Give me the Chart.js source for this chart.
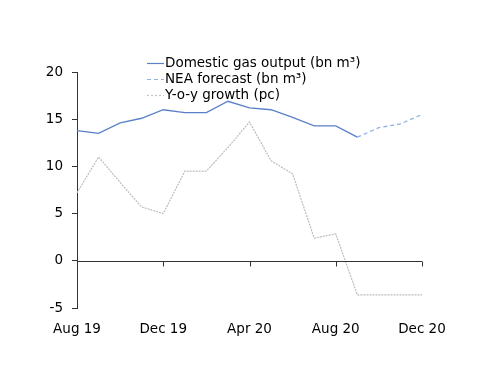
<!DOCTYPE html>
<html>
<head>
<meta charset="utf-8">
<script src="https://cdn.jsdelivr.net/npm/chart.js@4"></script>
<style>
  html, body { margin: 0; padding: 0; background: #fff; }
  #wrap { width: 500px; height: 386px; }
</style>
</head>
<body>
<div id="wrap"><canvas id="myChart" width="500" height="386"></canvas></div>
<script>
const months = ['Aug 19','Sep 19','Oct 19','Nov 19','Dec 19','Jan 20','Feb 20','Mar 20',
                'Apr 20','May 20','Jun 20','Jul 20','Aug 20','Sep 20','Oct 20','Nov 20','Dec 20'];
const domestic = [13.8, 13.5, 14.6, 15.1, 16.0, 15.7, 15.7, 16.9, 16.2, 16.0, 15.2, 14.3, 14.3, 13.1,
                  null, null, null];
const forecast = [null, null, null, null, null, null, null, null, null, null, null, null, null, 13.1,
                  14.1, 14.5, 15.5];
const yoy = [7.2, 11.0, 8.3, 5.7, 5.0, 9.5, 9.5, 12.0, 14.7, 10.6, 9.2, 2.4, 2.85, -3.6, -3.6, -3.6, -3.6];
const yTicks = [-5, 0, 5, 10, 15, 20];

const FONT = 'DejaVu Sans';

// x axis is drawn at y = 0, with downward ticks every 4 months
const zeroAxis = {
    id: 'zeroAxis',
    afterDatasetsDraw(chart) {
        const ctx = chart.ctx;
        const x = chart.scales.x, y = chart.scales.y;
        const y0 = Math.round(y.getPixelForValue(0)) + 0.5;
        ctx.save();
        ctx.strokeStyle = '#333';
        ctx.lineWidth = 1;
        ctx.beginPath();
        ctx.moveTo(chart.chartArea.left, y0);
        ctx.lineTo(chart.chartArea.right, y0);
        for (let i = 4; i < months.length; i += 4) {
            const px = Math.round(x.getPixelForValue(i)) + 0.5;
            ctx.moveTo(px, y0);
            ctx.lineTo(px, y0 + 5);
        }
        ctx.stroke();
        ctx.restore();
    }
};

// stacked legend in the top of the plot
const stackLegend = {
    id: 'stackLegend',
    afterDraw(chart) {
        const ctx = chart.ctx;
        const items = [
            {text: 'Domestic gas output (bn m³)', color: '#5a80c8', dash: []},
            {text: 'NEA forecast (bn m³)', color: '#8fb4e3', dash: [4, 3]},
            {text: 'Y-o-y growth (pc)', color: '#c4c4c4', dash: [2, 2]}
        ];
        ctx.save();
        ctx.font = '13.5px "' + FONT + '"';
        ctx.textBaseline = 'middle';
        items.forEach((it, i) => {
            const cy = 63 + i * 16;
            ctx.strokeStyle = it.color;
            ctx.lineWidth = 1.2;
            ctx.setLineDash(it.dash);
            ctx.beginPath();
            ctx.moveTo(147, cy + 0.5);
            ctx.lineTo(164, cy + 0.5);
            ctx.stroke();
            ctx.fillStyle = '#000';
            ctx.fillText(it.text, 165, cy);
        });
        ctx.restore();
    }
};

const ctx = document.getElementById('myChart').getContext('2d');
const myChart = new Chart(ctx, {
    type: 'line',
    data: {
        labels: months,
        datasets: [{
            label: 'Domestic gas output (bn m³)',
            data: domestic,
            borderColor: '#5a80c8',
            borderWidth: 1.3,
            pointRadius: 0,
            tension: 0
        }, {
            label: 'NEA forecast (bn m³)',
            data: forecast,
            borderColor: '#8fb4e3',
            borderWidth: 1.3,
            borderDash: [4, 3],
            pointRadius: 0,
            tension: 0
        }, {
            label: 'Y-o-y growth (pc)',
            data: yoy,
            borderColor: '#bdbdbd',
            borderWidth: 1.2,
            borderDash: [2, 1],
            pointRadius: 0,
            tension: 0
        }]
    },
    options: {
        responsive: false,
        animation: false,
        layout: { padding: { left: 0, right: 78, top: 72, bottom: 38 } },
        plugins: {
            legend: { display: false },
            tooltip: { enabled: false }
        },
        scales: {
            x: {
                offset: false,
                grid: { display: false },
                border: { display: false },
                ticks: {
                    autoSkip: false,
                    maxRotation: 0,
                    padding: 5,
                    color: '#000',
                    font: { family: FONT, size: 13.5 },
                    callback: function(v, i) { return i % 4 === 0 ? months[i] : null; }
                },
                afterFit: function(s) { s.height = 40; }
            },
            y: {
                min: -5,
                max: 20,
                afterBuildTicks: function(s) { s.ticks = yTicks.map(v => ({value: v})); },
                grid: { drawOnChartArea: false, tickLength: 5, color: '#333' },
                border: { display: true, color: '#333' },
                ticks: {
                    padding: 9,
                    color: '#000',
                    font: { family: FONT, size: 13.5 }
                },
                afterFit: function(s) { s.width = 77; }
            }
        }
    },
    plugins: [zeroAxis, stackLegend]
});
</script>
</body>
</html>
